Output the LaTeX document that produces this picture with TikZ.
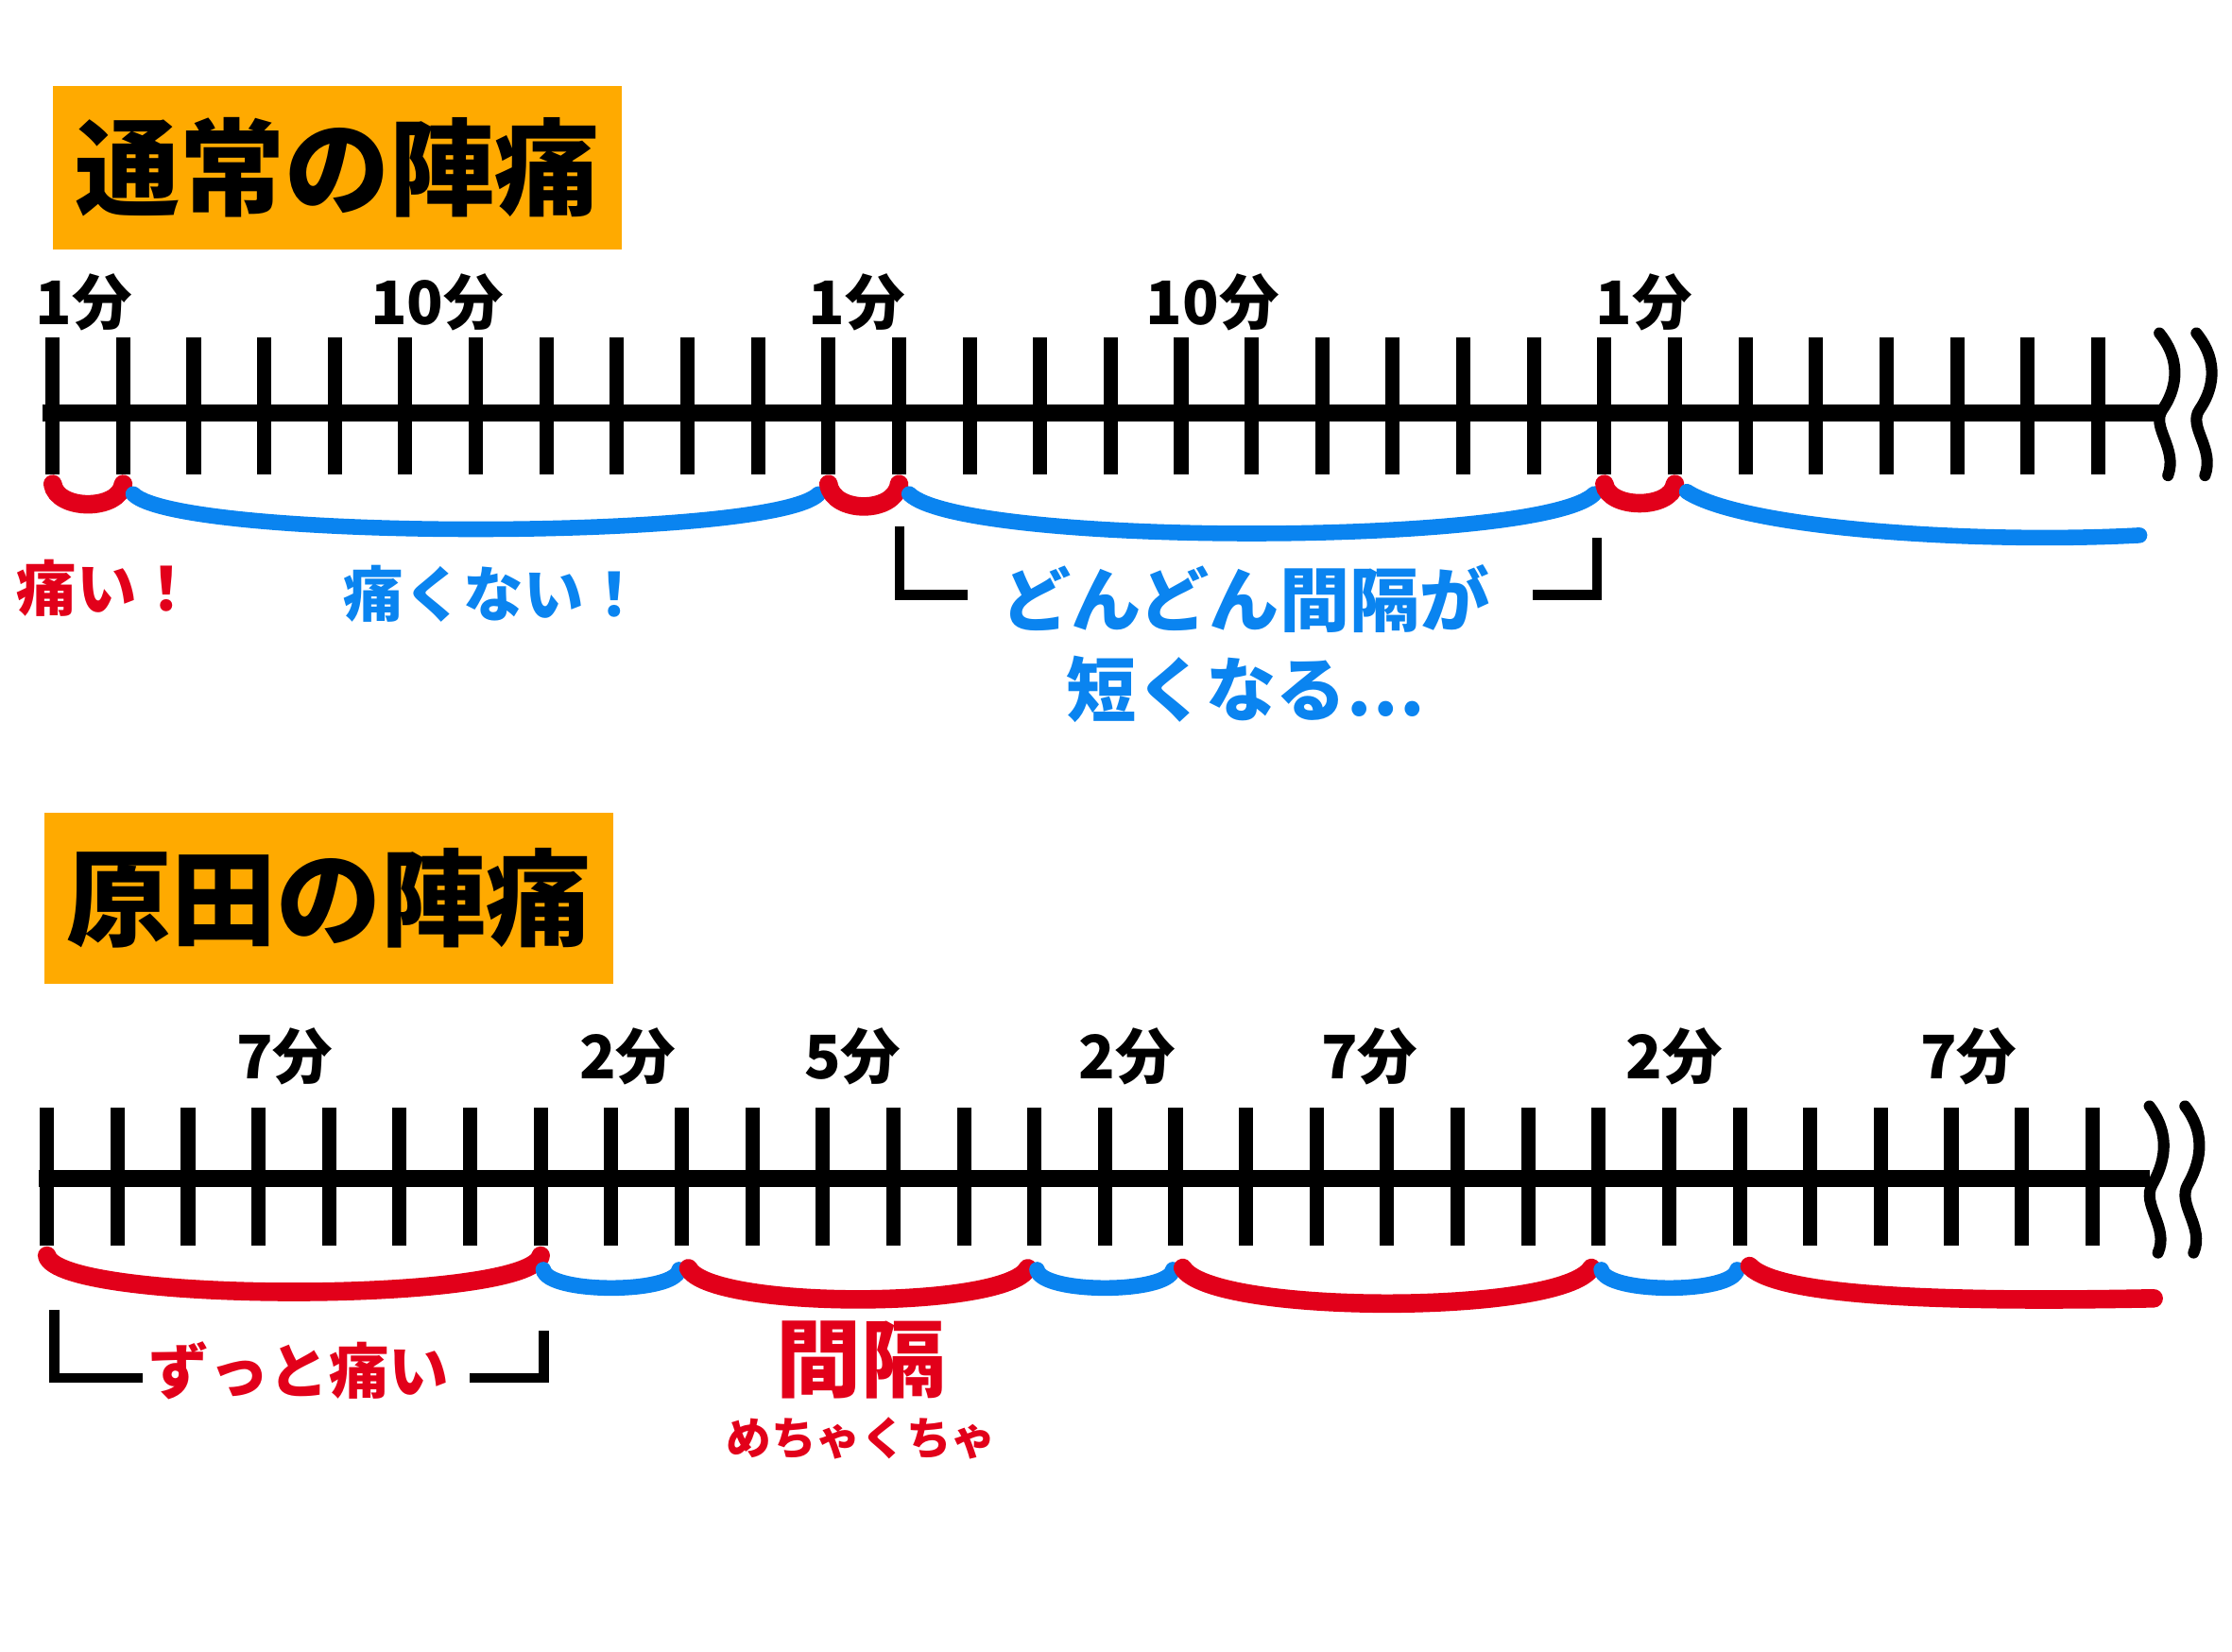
\documentclass[tikz,border=0pt]{standalone}
\usepackage{fontspec}
\newfontfamily\jpfont{Noto Sans CJK JP}
\definecolor{boxorange}{RGB}{255,170,0}
\definecolor{painred}{RGB}{226,0,26}
\definecolor{calmblue}{RGB}{10,132,240}

\begin{document}
\begin{tikzpicture}[x=0.1mm, y=-0.1mm, line cap=round,
  titlebox/.style={fill=boxorange, inner sep=0pt, minimum width=40mm, minimum height=11.5mm, font=\jpfont\bfseries\fontsize{21}{21}\selectfont},
  minlabel/.style={inner sep=0pt, font=\jpfont\bfseries\fontsize{12}{12}\selectfont},
  axisline/.style={draw=black, line width=1.2mm, line cap=butt},
  tickmark/.style={draw=black, line width=1mm, line cap=butt},
  breakline/.style={draw=black, line width=0.8mm},
  bracketline/.style={draw=black, line width=0.7mm, line cap=butt},
  painarc/.style={draw=painred, line width=1.3mm},
  calmarc/.style={draw=calmblue, line width=1.1mm},
  painlabel/.style={inner sep=0pt, text=painred, font=\jpfont\bfseries\fontsize{12}{12}\selectfont},
  calmlabel/.style={inner sep=0pt, text=calmblue, font=\jpfont\bfseries\fontsize{12}{12}\selectfont}]
\path[use as bounding box] (0,0) rectangle (1568,1160);

\node[titlebox] (title1) at (237,118) {通常の陣痛};
\node[titlebox, minimum height=12mm] (title2) at (231,631) {原田の陣痛};

\coordinate (aL) at (30,290);
\coordinate (aR) at (1517,290);
\draw[axisline] (aL) -- (aR);
\foreach \i in {0,...,29}{
  \coordinate (a\i) at ({37+49.55*\i},340);
  \draw[tickmark] ({37+49.55*\i},237) -- ({37+49.55*\i},333);
}
\foreach \dx in {0,26}
  \draw[breakline] (1517+\dx,234) .. controls (1534+\dx,255) and (1528+\dx,275) .. (1519+\dx,288) .. controls (1511+\dx,300) and (1530+\dx,315) .. (1523+\dx,334);

\foreach \x/\t [count=\n] in {59/1分, 307/10分, 602/1分, 852/10分, 1155/1分}
  \node[minlabel] (m\n) at (\x,212) {\t};

\draw[painarc] (a0) .. controls +(3,19) and +(-3,19) .. (a1);
\draw[calmarc, shorten <=1mm, shorten >=1mm] (a1) .. controls +(40,40) and +(-40,40) .. (a11);
\draw[painarc] (a11) .. controls +(3,21) and +(-3,21) .. (a12);
\draw[calmarc, shorten <=1mm, shorten >=1mm] (a12) .. controls +(45,44) and +(-45,44) .. (a22);
\draw[painarc] (a22) .. controls +(3,18) and +(-3,18) .. (a23);
\coordinate (aEnd) at (1503,376);
\draw[calmarc, shorten <=1mm] (a23) .. controls +(50,32) and +(-110,6) .. (aEnd);

\node[painlabel] (hurt) at (75,413) {痛い！};
\node[calmlabel] (nohurt) at (347,417) {痛くない！};
\node[calmlabel, align=center, font=\jpfont\bfseries\fontsize{14}{18}\selectfont] (shorter) at (875,452) {どんどん間隔が\\短くなる…};
\draw[bracketline] (632,370) -- (632,418) -- (680,418);
\draw[bracketline] (1077,418) -- (1122,418) -- (1122,378);

\coordinate (bL) at (27,828);
\coordinate (bR) at (1510,828);
\draw[axisline] (bL) -- (bR);
\foreach \i in {0,...,29}{
  \coordinate (b\i) at ({33+49.55*\i},882);
  \draw[tickmark] ({33+49.55*\i},778) -- ({33+49.55*\i},875);
}
\foreach \dx in {0,25}
  \draw[breakline] (1510+\dx,777) .. controls (1526+\dx,798) and (1520+\dx,818) .. (1512+\dx,832) .. controls (1504+\dx,846) and (1524+\dx,862) .. (1516+\dx,880);

\foreach \x/\t [count=\n] in {200/7分, 441/2分, 599/5分, 792/2分, 962/7分, 1176/2分, 1383/7分}
  \node[minlabel] (n\n) at (\x,742) {\t};

\draw[painarc] (b0) .. controls +(8,34) and +(-8,34) .. (b7);
\draw[calmarc, shorten <=1mm, shorten >=1mm] (b7) .. controls +(5,27) and +(-5,27) .. (b9);
\draw[painarc, shorten <=1mm, shorten >=1mm] (b9) .. controls +(20,38) and +(-20,38) .. (b14);
\draw[calmarc, shorten <=1mm, shorten >=1mm] (b14) .. controls +(5,27) and +(-5,27) .. (b16);
\draw[painarc, shorten <=1mm, shorten >=1mm] (b16) .. controls +(25,42) and +(-25,42) .. (b22);
\draw[calmarc, shorten <=1mm, shorten >=1mm] (b22) .. controls +(5,27) and +(-5,27) .. (b24);
\coordinate (bEnd) at (1513,912);
\draw[painarc, shorten <=1mm] (b24) .. controls +(30,32) and +(-110,2) .. (bEnd);

\node[painlabel] (always) at (210,963) {ずっと痛い};
\node[painlabel, font=\jpfont\bfseries\fontsize{17}{17}\selectfont] (gap) at (605,955) {間隔};
\node[painlabel, font=\jpfont\bfseries\fontsize{9}{9}\selectfont] (messy) at (605,1010) {めちゃくちゃ};
\draw[bracketline] (38,920) -- (38,968) -- (100,968);
\draw[bracketline] (330,968) -- (382,968) -- (382,935);
\end{tikzpicture}
\end{document}
